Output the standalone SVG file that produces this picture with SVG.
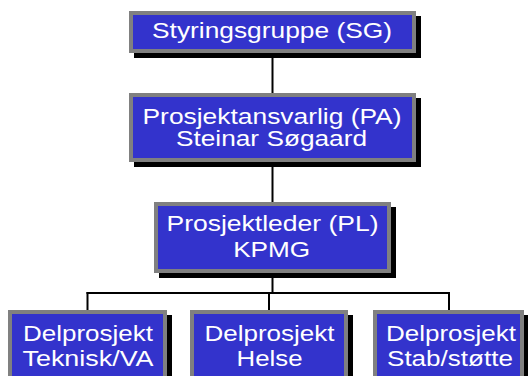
<svg xmlns="http://www.w3.org/2000/svg" width="528" height="376" viewBox="0 0 528 376">
<style>
.shadow{fill:#000000}
.box{fill:#3333CC;stroke:#808080;stroke-width:4}
.lbl{font-family:"Liberation Sans",Arial,sans-serif;font-size:21.5px;fill:#FFFFFF;text-anchor:middle}
.conn{stroke:#000000;stroke-width:2;fill:none}
</style>
<rect width="528" height="376" fill="#FFFFFF"/>
<g id="connectors">
<line class="conn" x1="272.5" y1="53" x2="272.5" y2="93"/>
<line class="conn" x1="272.5" y1="162" x2="272.5" y2="202"/>
<line class="conn" x1="272.5" y1="273" x2="272.5" y2="293"/>
<line class="conn" x1="86.5" y1="293" x2="450" y2="293"/>
<line class="conn" x1="87.5" y1="292" x2="87.5" y2="310"/>
<line class="conn" x1="269" y1="292" x2="269" y2="310"/>
<line class="conn" x1="449" y1="292" x2="449" y2="310"/>
</g>
<g id="sg">
<rect class="shadow" x="134" y="16" width="287" height="42"/>
<rect class="box" x="131" y="13" width="283" height="38"/>
<text class="lbl" x="272" y="38" textLength="240" lengthAdjust="spacingAndGlyphs">Styringsgruppe (SG)</text>
</g>
<g id="pa">
<rect class="shadow" x="134" y="98" width="287" height="69"/>
<rect class="box" x="131" y="95" width="283" height="65"/>
<text class="lbl" x="272" y="123.5" textLength="259" lengthAdjust="spacingAndGlyphs">Prosjektansvarlig (PA)</text>
<text class="lbl" x="271.5" y="146" textLength="191" lengthAdjust="spacingAndGlyphs">Steinar Søgaard</text>
</g>
<g id="pl">
<rect class="shadow" x="159" y="207" width="237" height="71"/>
<rect class="box" x="156" y="204" width="233" height="67"/>
<text class="lbl" x="272.5" y="231" textLength="212" lengthAdjust="spacingAndGlyphs">Prosjektleder (PL)</text>
<text class="lbl" x="271.7" y="257" textLength="77" lengthAdjust="spacingAndGlyphs">KPMG</text>
</g>
<g id="dp-teknisk">
<rect class="shadow" x="13" y="315" width="159" height="80"/>
<rect class="box" x="10" y="312" width="155" height="80"/>
<text class="lbl" x="88" y="341" textLength="130" lengthAdjust="spacingAndGlyphs">Delprosjekt</text>
<text class="lbl" x="88" y="366" textLength="131" lengthAdjust="spacingAndGlyphs">Teknisk/VA</text>
</g>
<g id="dp-helse">
<rect class="shadow" x="195" y="315" width="158" height="80"/>
<rect class="box" x="192" y="312" width="154" height="80"/>
<text class="lbl" x="269.5" y="341" textLength="130" lengthAdjust="spacingAndGlyphs">Delprosjekt</text>
<text class="lbl" x="269.5" y="366" textLength="66" lengthAdjust="spacingAndGlyphs">Helse</text>
</g>
<g id="dp-stab">
<rect class="shadow" x="378" y="315" width="151" height="80"/>
<rect class="box" x="375" y="312" width="147" height="80"/>
<text class="lbl" x="451" y="341" textLength="130" lengthAdjust="spacingAndGlyphs">Delprosjekt</text>
<text class="lbl" x="450" y="366" textLength="126" lengthAdjust="spacingAndGlyphs">Stab/støtte</text>
</g>
</svg>
